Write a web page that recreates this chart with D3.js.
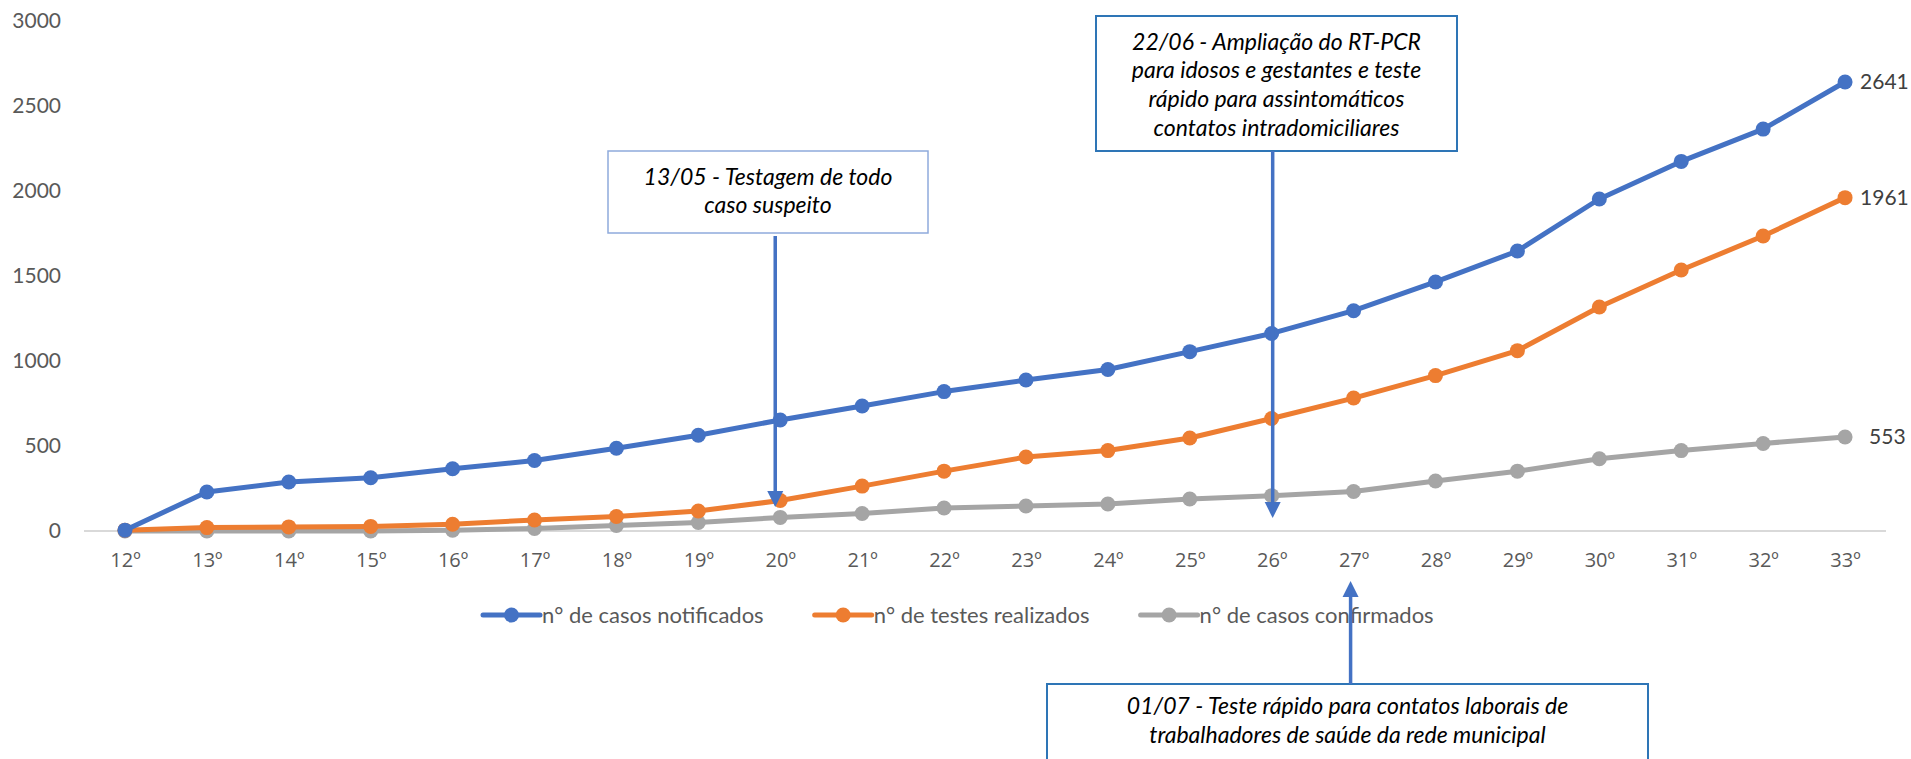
<!DOCTYPE html>
<html>
<head>
<meta charset="utf-8">
<script src="https://cdn.jsdelivr.net/npm/d3@7"></script>
<style>
  body { margin: 0; background: #fff; }
  svg { display: block; font-family: Lato, "Open Sans", sans-serif; }
</style>
</head>
<body>
<div id="chart"></div>
<script>
// Data: weeks (semanas epidemiológicas) and the three series
const weeks = ["12º","13º","14º","15º","16º","17º","18º","19º","20º","21º","22º",
               "23º","24º","25º","26º","27º","28º","29º","30º","31º","32º","33º"];
const notificados = [5, 229, 288, 313, 366, 415, 487, 563, 653, 735, 820,
                     888, 950, 1055, 1162, 1296, 1465, 1647, 1953, 2174, 2364, 2641];
const testes = [5, 20, 24, 27, 40, 65, 85, 118, 179, 264, 352,
                435, 473, 547, 662, 782, 914, 1061, 1318, 1535, 1735, 1961];
const confirmados = [0, 0, 0, 0, 5, 15, 32, 50, 80, 103, 135,
                     147, 159, 188, 208, 232, 294, 352, 425, 473, 515, 553];
const yTicks = [0, 500, 1000, 1500, 2000, 2500, 3000];
const seriesNames = ["n° de casos notificados", "n° de testes realizados", "n° de casos confirmados"];
const seriesColors = ["#4472C4", "#ED7D31", "#A5A5A5"];

// Annotations: text lines and the week each arrow points at
const note1 = ["13/05 - Testagem de todo", "caso suspeito"];
const note2 = ["22/06 - Ampliação do RT-PCR", "para idosos e gestantes e teste",
               "rápido para assintomáticos", "contatos intradomiciliares"];
const note3 = ["01/07 - Teste rápido para contatos laborais de",
               "trabalhadores de saúde da rede municipal"];
const noteWeeks = ["20º", "26º", "27º"];

const W = 1911, H = 759;
const svg = d3.select("#chart").append("svg")
  .attr("width", W).attr("height", H);

// scales
const x = d3.scalePoint().domain(weeks).range([84, 1886]).padding(0.5);
const y = d3.scaleLinear().domain([0, 3000]).range([531, 21]);

// y axis labels (no axis line)
const yAxis = svg.append("g")
  .attr("transform", "translate(61,0)")
  .call(d3.axisLeft(y).tickValues(yTicks).tickSize(0).tickPadding(0).tickFormat(d3.format("d")));
yAxis.select(".domain").remove();
yAxis.selectAll("text").style("font-size", "21px").style("fill", "#595959").style("font-family", "Lato");

// baseline
svg.append("line")
  .attr("x1", 84).attr("x2", 1886)
  .attr("y1", y(0)).attr("y2", y(0))
  .attr("stroke", "#D9D9D9").attr("stroke-width", 2);

// x axis labels - Open Sans has the underlined ordinal sign
const xAxis = svg.append("g")
  .attr("transform", `translate(0,${y(0)})`)
  .call(d3.axisBottom(x).tickSize(0).tickPadding(22));
xAxis.select(".domain").remove();
xAxis.selectAll("text").style("font-size", "20px").style("fill", "#595959").style("font-family", "'Open Sans'");

// lines + markers, gray first so blue is on top
const allSeries = [notificados, testes, confirmados];
const line = d3.line().x((d, i) => x(weeks[i])).y(d => y(d));
[2, 1, 0].forEach(s => {
  svg.append("path")
    .datum(allSeries[s])
    .attr("fill", "none")
    .attr("stroke", seriesColors[s])
    .attr("stroke-width", 5)
    .attr("stroke-linejoin", "round")
    .attr("d", line);
  svg.selectAll(".dot" + s)
    .data(allSeries[s])
    .enter().append("circle")
    .attr("cx", (d, i) => x(weeks[i]))
    .attr("cy", d => y(d))
    .attr("r", 7.5)
    .attr("fill", seriesColors[s]);
});

// end labels
const last = weeks.length - 1;
[[notificados, 15], [testes, 15], [confirmados, 24]].forEach(([arr, dx]) => {
  svg.append("text")
    .attr("x", x(weeks[last]) + dx)
    .attr("y", y(arr[last]))
    .attr("dy", "0.35em")
    .style("font-size", "21px")
    .style("fill", "#404040")
    .text(arr[last]);
});

// legend
const legend = svg.append("g").attr("transform", "translate(483,615)");
let lx = 0;
seriesNames.forEach((name, i) => {
  const g = legend.append("g").attr("transform", `translate(${lx},0)`);
  g.append("line").attr("x1", 0).attr("x2", 57).attr("y1", 0).attr("y2", 0)
    .attr("stroke", seriesColors[i]).attr("stroke-width", 5).attr("stroke-linecap", "round");
  g.append("circle").attr("cx", 28.5).attr("cy", 0).attr("r", 7.5).attr("fill", seriesColors[i]);
  const t = g.append("text").attr("x", 59).attr("dy", "0.35em")
    .style("font-size", "22px").style("fill", "#595959").text(name);
  lx += 59 + t.node().getComputedTextLength() + 51;
});

// annotations
function noteBox(lines, x0, x1, y0, y1, stroke, sw, lineY) {
  svg.append("rect")
    .attr("x", x0).attr("y", y0).attr("width", x1 - x0).attr("height", y1 - y0)
    .attr("fill", "#fff").attr("stroke", stroke).attr("stroke-width", sw);
  lines.forEach((l, i) => {
    svg.append("text")
      .attr("x", (x0 + x1) / 2).attr("y", lineY[i])
      .attr("dy", "0.35em")
      .attr("text-anchor", "middle")
      .style("font-size", "23px").style("font-style", "italic").style("fill", "#000")
      .text(l);
  });
}
function arrow(ax, yFrom, yTo) {
  const dir = yTo > yFrom ? 1 : -1;
  const head = 16;
  svg.append("line")
    .attr("x1", ax).attr("x2", ax).attr("y1", yFrom).attr("y2", yTo - dir * head)
    .attr("stroke", "#4472C4").attr("stroke-width", 3.5);
  svg.append("path")
    .attr("d", `M${ax - 8},${yTo - dir * head} L${ax + 8},${yTo - dir * head} L${ax},${yTo} Z`)
    .attr("fill", "#4472C4");
}

noteBox(note1, 608, 928, 151, 233, "#8FAADC", 1.5, [177, 205]);
arrow(x(noteWeeks[0]) - 5, 236, 507);

noteBox(note2, 1096, 1457, 16, 151, "#2E75B6", 2, [42, 70, 99, 128]);
arrow(x(noteWeeks[1]) + 1, 151, 518);

noteBox(note3, 1047, 1648, 684, 790, "#2E75B6", 2, [706, 735]);
arrow(x(noteWeeks[2]) - 3, 684, 581);
</script>
</body>
</html>
